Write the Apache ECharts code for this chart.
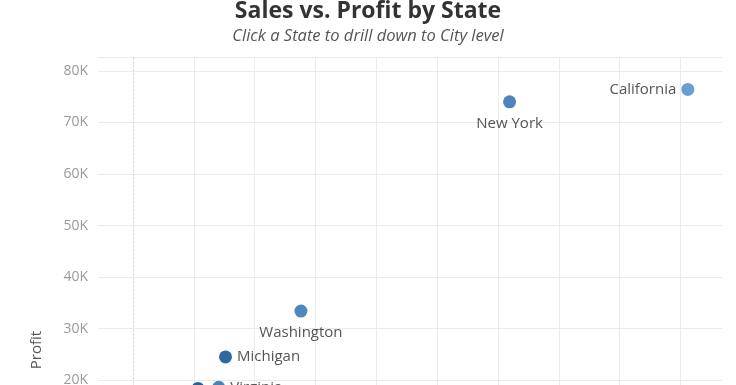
<!DOCTYPE html>
<html>
<head>
<meta charset="utf-8">
<script src="https://cdn.jsdelivr.net/npm/echarts@6/dist/echarts.min.js"></script>
<style>
html,body{margin:0;padding:0;overflow:hidden;background:#fff;}
#chart{width:736px;height:700px;}
</style>
</head>
<body>
<div id="chart"></div>
<script>
// Data
const states = ['California', 'New York', 'Washington', 'Michigan', 'Virginia', 'Indiana'];
const sales  = [456000, 309500, 138000, 76000, 70400, 53400];
const profit = [76400, 74000, 33400, 24500, 18600, 18400];
const xGridValues = [50000, 100000, 150000, 200000, 250000, 300000, 350000, 400000, 450000];

const colorMap = {
  'California': '#699fd0',
  'New York': '#4d85ba',
  'Washington': '#5088bc',
  'Michigan': '#2f67a1',
  'Virginia': '#4a82b8',
  'Indiana': '#2b5f96'
};
const labelPos = {
  'California': {position: 'left', distance: 5},
  'New York': {position: 'bottom', distance: 8},
  'Washington': {position: 'bottom', distance: 8},
  'Michigan': {position: 'right', distance: 5},
  'Virginia': {position: 'right', distance: 5},
  'Indiana': {show: false}
};

const data = states.map((s, i) => ({
  name: s,
  value: [sales[i], profit[i]],
  itemStyle: {color: colorMap[s], opacity: 1},
  label: Object.assign({show: true}, labelPos[s])
}));

const FONT = '"Open Sans", "DejaVu Sans", sans-serif';
const chart = echarts.init(document.getElementById('chart'), null, {renderer: 'canvas'});
chart.setOption({
  animation: false,
  title: {
    text: 'Sales vs. Profit by State',
    subtext: 'Click a State to drill down to City level',
    left: 'center',
    top: -5,
    itemGap: 5,
    textStyle: {fontFamily: FONT, fontWeight: 'bold', fontSize: 23, color: '#333333'},
    subtextStyle: {fontFamily: FONT, fontStyle: 'italic', fontSize: 16.5, color: '#555555'}
  },
  grid: {left: 98, top: 57, width: 624, height: 586},
  xAxis: {
    type: 'value',
    min: -28800,
    max: 484100,
    axisLine: {show: false},
    axisTick: {show: false},
    axisLabel: {show: false},
    splitLine: {show: false}
  },
  yAxis: {
    type: 'value',
    min: -31000,
    max: 82700,
    splitNumber: 11,
    name: 'Profit',
    nameLocation: 'middle',
    nameGap: 54,
    nameTextStyle: {fontFamily: FONT, fontSize: 15, color: '#555555'},
    axisLine: {show: true, lineStyle: {color: '#ebebeb', width: 1}},
    axisTick: {show: true, length: 6, lineStyle: {color: '#ebebeb'}},
    axisLabel: {
      fontFamily: FONT, fontSize: 14, color: '#9a9a9a', margin: 10,
      showMaxLabel: false, showMinLabel: false,
      formatter: v => (v % 10000 === 0 ? (v / 1000) + 'K' : '')
    },
    splitLine: {show: true, lineStyle: {color: '#ebebeb', width: 1}}
  },
  series: [
    {
      type: 'scatter',
      symbolSize: 13,
      data: data,
      label: {fontFamily: FONT, fontSize: 15, color: '#555555', formatter: '{b}'},
      emphasis: {disabled: true},
      z: 5,
      markLine: {
        silent: true,
        symbol: 'none',
        label: {show: false},
        data: xGridValues.map(v => ({xAxis: v, lineStyle: {color: '#ebebeb', type: 'solid', width: 1}}))
          .concat([{xAxis: 0, lineStyle: {color: '#c4c4c4', type: [1, 3], width: 1}}])
      }
    }
  ]
});
</script>
</body>
</html>
